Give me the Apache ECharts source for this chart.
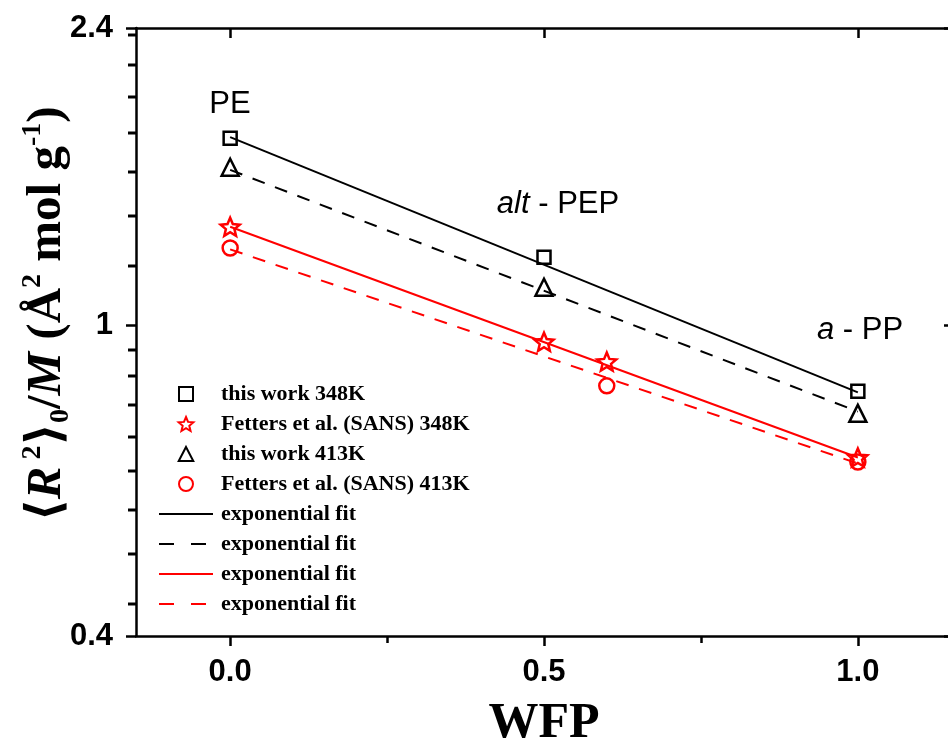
<!DOCTYPE html>
<html>
<head>
<meta charset="utf-8">
<script src="https://cdn.jsdelivr.net/npm/echarts@6/dist/echarts.min.js"></script>
<style>
  html, body { margin: 0; padding: 0; background: #fff; }
  #chart { width: 948px; height: 743px; }
</style>
</head>
<body>
<div id="chart"></div>
<script>
// Tick values
const xTickMajor = [0, 0.5, 1.0];
const xTickMinor = [0.25, 0.75];
const yTickMinor = [0.44, 0.51, 0.58, 0.65, 0.72, 0.79, 0.86, 0.93,
                    1.19, 1.38, 1.57, 1.76, 1.96, 2.15, 2.35];

// Measured <R^2>_0/M values (Å^2 mol/g) against weight fraction of propylene
const wfpThisWork = [0, 0.5, 1.0];
const thisWork348K = [1.734, 1.221, 0.823];
const thisWork413K = [1.592, 1.118, 0.771];
const wfpFetters348K = [0, 0.5, 0.6, 1.0];
const fetters348K = [1.336, 0.952, 0.898, 0.677];
const wfpFetters413K = [0, 0.6, 1.0];
const fetters413K = [1.255, 0.836, 0.668];

// Exponential fits (straight lines on the log axis), end values at WFP 0 and 1
const wfpFit = [0, 1.0];
const fitThisWork348K = [1.74, 0.82];
const fitThisWork413K = [1.58, 0.775];
const fitFetters348K = [1.336, 0.677];
const fitFetters413K = [1.25, 0.665];

const X_MIN = -0.15, X_MAX = 1.15, Y_MIN = 0.4, Y_MAX = 2.4;

const pairs = (xs, ys) => xs.map((x, i) => [x, ys[i]]);

const RED = '#ff0000';
const BLACK = '#000000';
const SERIF = '"Liberation Serif", "Times New Roman", "DejaVu Serif", serif';
const SANS = '"Liberation Sans", Arial, "DejaVu Sans", sans-serif';
const STAR = 'path://M0,-100L26.45,-36.4L95.1,-30.9L42.8,13.9L58.8,80.9L0,45L-58.8,80.9L-42.8,13.9L-95.1,-30.9L-26.45,-36.4Z';
const SQUARE_ICON = 'path://M-50,-50L50,-50L50,50L-50,50Z';
const TRIANGLE_ICON = 'path://M0,-55L52,45L-52,45Z';
const DASH = [13, 11];
const LEGEND_DASH = [15, 17];

const FIT_NAMES = [
  'exponential fit (this work 348K)',
  'exponential fit (this work 413K)',
  'exponential fit (Fetters 348K)',
  'exponential fit (Fetters 413K)'
];

function markerSeries(name, xs, ys, symbol, size, color) {
  return {
    name, type: 'scatter', xAxisIndex: 0, yAxisIndex: 0,
    data: pairs(xs, ys), symbol, symbolSize: size, symbolKeepAspect: true,
    itemStyle: { color: 'rgba(255,255,255,0)', borderColor: color, borderWidth: 2.5, opacity: 1 },
    z: 5
  };
}
function fitSeries(name, ys, color, dashed) {
  return {
    name, type: 'line', xAxisIndex: 0, yAxisIndex: 0,
    data: pairs(wfpFit, ys), symbol: 'none', showSymbol: false,
    lineStyle: { color, width: 2, type: dashed ? DASH : 'solid' },
    itemStyle: { color },
    z: 3
  };
}

// Minor ticks on the left log axis, placed through the axis scale
const minorTickSeries = {
  type: 'custom', coordinateSystem: 'cartesian2d', xAxisIndex: 0, yAxisIndex: 0,
  data: yTickMinor.map(v => [X_MIN, v]),
  clip: false, silent: true, z: 6,
  renderItem: (params, api) => {
    const p = api.coord([api.value(0), api.value(1)]);
    const y = Math.round(p[1]);
    return {
      type: 'line',
      shape: { x1: p[0] - 8, y1: y, x2: p[0], y2: y },
      style: { stroke: BLACK, lineWidth: 3 }
    };
  }
};

const axisLineStyle = { color: BLACK, width: 2.5 };
const hiddenMarker = { opacity: 0 };

const option = {
  animation: false,
  backgroundColor: '#fff',
  grid: { left: 136, top: 28, width: 816, height: 608, containLabel: false, outerBoundsMode: 'none' },
  xAxis: [
    {
      type: 'value', position: 'bottom', min: X_MIN, max: X_MAX,
      axisLine: { show: true, onZero: false, lineStyle: axisLineStyle },
      axisTick: { show: true, interval: 0, customValues: xTickMajor, length: 10, lineStyle: axisLineStyle },
      axisLabel: {
        customValues: xTickMajor, margin: 21,
        formatter: v => Number(v).toFixed(1),
        color: BLACK, fontFamily: SANS, fontWeight: 'bold', fontSize: 31
      },
      splitLine: { show: false },
      name: 'WFP', nameLocation: 'middle', nameGap: 63,
      nameTextStyle: { color: BLACK, fontFamily: SERIF, fontWeight: 'bold', fontSize: 50 }
    },
    {
      type: 'value', position: 'bottom', min: X_MIN, max: X_MAX,
      axisLine: { show: false, onZero: false },
      axisTick: { show: true, interval: 0, customValues: xTickMinor, length: 7, lineStyle: axisLineStyle },
      axisLabel: { show: false },
      splitLine: { show: false }
    },
    {
      type: 'value', position: 'top', min: X_MIN, max: X_MAX,
      axisLine: { show: true, onZero: false, lineStyle: axisLineStyle },
      axisTick: { show: true, interval: 0, inside: true, customValues: xTickMajor, length: 10, lineStyle: axisLineStyle },
      axisLabel: { show: false },
      splitLine: { show: false }
    }
  ],
  yAxis: [
    {
      type: 'log', logBase: 10, position: 'left', min: Y_MIN, max: Y_MAX,
      axisLine: { show: true, onZero: false, lineStyle: axisLineStyle },
      axisTick: { show: true, length: 10, lineStyle: axisLineStyle },
      axisLabel: {
        margin: 23,
        formatter: v => String(+Number(v).toFixed(1)),
        color: BLACK, fontFamily: SANS, fontWeight: 'bold', fontSize: 31
      },
      splitLine: { show: false },
      name: '{p|\u27E8}{i|R}{sup| 2}{p|\u27E9}{sub|0}{p|/}{i|M}{p| (\u00C5}{sup|2}{p| mol g}{sup|-1}{p|)}',
      nameLocation: 'middle', nameRotate: 90, nameGap: 61, nameMoveOverlap: false,
      nameTextStyle: {
        color: BLACK,
        padding: [0, 0, 0, 36],
        rich: {
          p: { fontFamily: SERIF, fontWeight: 'bold', fontSize: 49, lineHeight: 56, color: BLACK },
          i: { fontFamily: SERIF, fontWeight: 'bold', fontStyle: 'italic', fontSize: 49, lineHeight: 56, color: BLACK },
          sup: { fontFamily: SERIF, fontWeight: 'bold', fontSize: 28, lineHeight: 30, verticalAlign: 'top', color: BLACK },
          sub: { fontFamily: SERIF, fontWeight: 'bold', fontSize: 28, lineHeight: 30, verticalAlign: 'bottom', color: BLACK }
        }
      }
    },
    {
      type: 'log', logBase: 10, position: 'right', min: Y_MIN, max: Y_MAX,
      axisLine: { show: true, onZero: false, lineStyle: axisLineStyle },
      axisTick: { show: true, inside: true, length: 8, lineStyle: axisLineStyle },
      axisLabel: { show: false },
      splitLine: { show: false }
    }
  ],
  legend: {
    orient: 'vertical', left: 158, top: 383, padding: 0,
    itemWidth: 54, itemHeight: 14, itemGap: 8,
    data: [
      { name: 'this work 348K', icon: SQUARE_ICON },
      { name: 'Fetters et al. (SANS) 348K' },
      { name: 'this work 413K', icon: TRIANGLE_ICON },
      { name: 'Fetters et al. (SANS) 413K' },
      { name: FIT_NAMES[0], itemStyle: hiddenMarker },
      { name: FIT_NAMES[1], itemStyle: hiddenMarker, lineStyle: { type: LEGEND_DASH } },
      { name: FIT_NAMES[2], itemStyle: hiddenMarker },
      { name: FIT_NAMES[3], itemStyle: hiddenMarker, lineStyle: { type: LEGEND_DASH } }
    ],
    formatter: name => name.indexOf('exponential fit') === 0 ? 'exponential fit' : name,
    textStyle: { color: BLACK, fontFamily: SERIF, fontWeight: 'bold', fontSize: 22, lineHeight: 22, padding: [0, 0, 0, 3] },
    selectedMode: false
  },
  graphic: [
    { type: 'text', x: 230, y: 104, style: { text: 'PE', fontFamily: SANS, fontSize: 31, fill: BLACK, align: 'center', verticalAlign: 'middle' } },
    { type: 'text', x: 558, y: 204, style: {
        text: '{i|alt} - PEP', fontFamily: SANS, fontSize: 31, fill: BLACK, align: 'center', verticalAlign: 'middle',
        rich: { i: { fontFamily: SANS, fontSize: 31, fontStyle: 'italic', fill: BLACK } } } },
    { type: 'text', x: 860, y: 330, style: {
        text: '{i|a} - PP', fontFamily: SANS, fontSize: 31, fill: BLACK, align: 'center', verticalAlign: 'middle',
        rich: { i: { fontFamily: SANS, fontSize: 31, fontStyle: 'italic', fill: BLACK } } } }
  ],
  series: [
    fitSeries(FIT_NAMES[0], fitThisWork348K, BLACK, false),
    fitSeries(FIT_NAMES[1], fitThisWork413K, BLACK, true),
    fitSeries(FIT_NAMES[2], fitFetters348K, RED, false),
    fitSeries(FIT_NAMES[3], fitFetters413K, RED, true),
    markerSeries('this work 348K', wfpThisWork, thisWork348K, 'rect', 13, BLACK),
    markerSeries('Fetters et al. (SANS) 348K', wfpFetters348K, fetters348K, STAR, 19, RED),
    markerSeries('this work 413K', wfpThisWork, thisWork413K, 'triangle', 17, BLACK),
    markerSeries('Fetters et al. (SANS) 413K', wfpFetters413K, fetters413K, 'circle', 15, RED),
    minorTickSeries
  ]
};

const chart = echarts.init(document.getElementById('chart'), null, { renderer: 'canvas' });
chart.setOption(option);
</script>
</body>
</html>
